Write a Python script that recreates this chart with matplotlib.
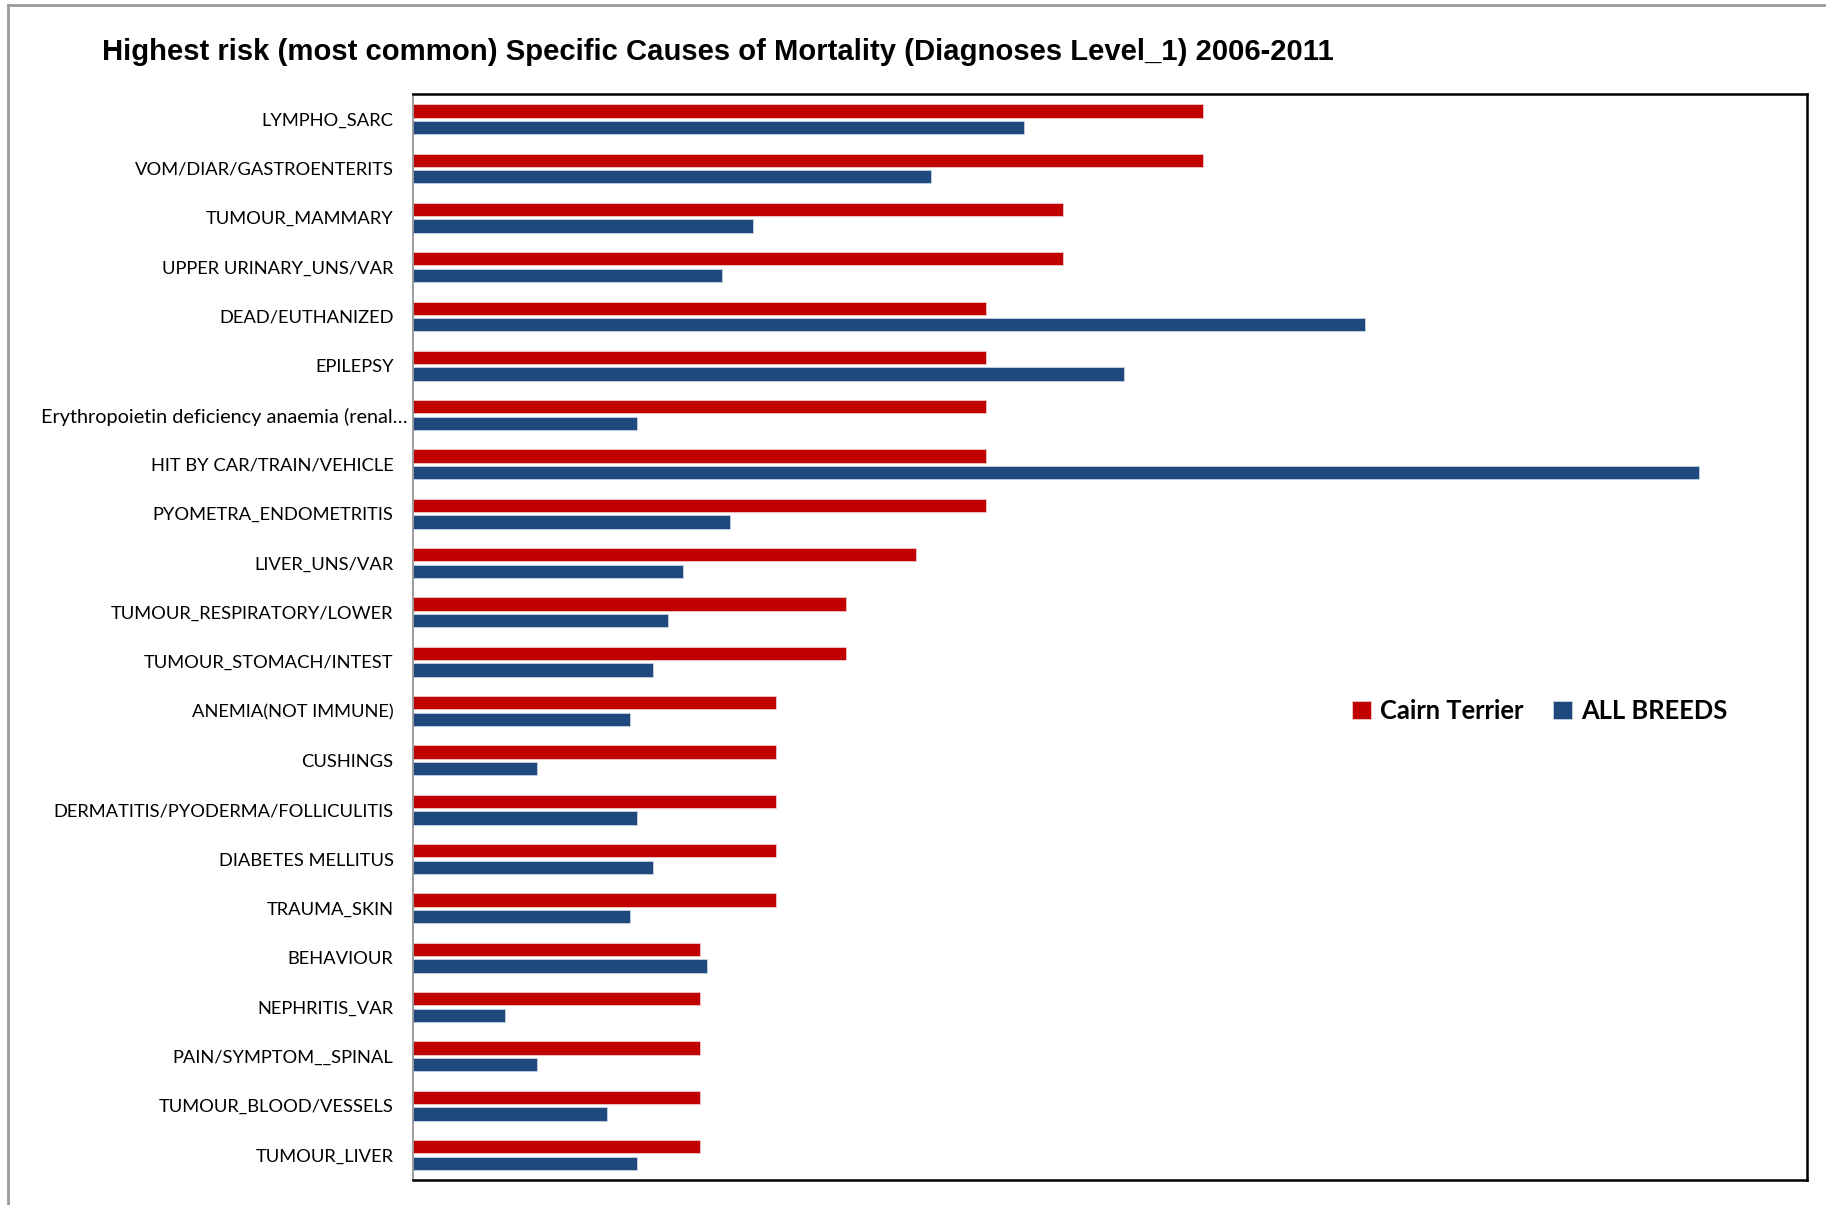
import numpy as np
import matplotlib.pyplot as plt
import matplotlib.transforms as mtransforms
from matplotlib.lines import Line2D

# categories, top to bottom
causes = [
    "LYMPHO_SARC", "VOM/DIAR/GASTROENTERITS", "TUMOUR_MAMMARY", "UPPER URINARY_UNS/VAR",
    "DEAD/EUTHANIZED", "EPILEPSY", "Erythropoietin deficiency anaemia (renal\u2026",
    "HIT BY CAR/TRAIN/VEHICLE", "PYOMETRA_ENDOMETRITIS", "LIVER_UNS/VAR",
    "TUMOUR_RESPIRATORY/LOWER", "TUMOUR_STOMACH/INTEST", "ANEMIA(NOT IMMUNE)",
    "CUSHINGS", "DERMATITIS/PYODERMA/FOLLICULITIS", "DIABETES MELLITUS", "TRAUMA_SKIN",
    "BEHAVIOUR", "NEPHRITIS_VAR", "PAIN/SYMPTOM__SPINAL", "TUMOUR_BLOOD/VESSELS",
    "TUMOUR_LIVER",
]
# values (arbitrary units, no axis shown)
cairn = [11.3, 11.3, 9.3, 9.3, 8.2, 8.2, 8.2, 8.2, 8.2, 7.2, 6.2, 6.2,
         5.2, 5.2, 5.2, 5.2, 5.2, 4.1, 4.1, 4.1, 4.1, 4.1]
all_breeds = [8.75, 7.42, 4.87, 4.42, 13.63, 10.18, 3.2, 18.4, 4.53, 3.87, 3.65, 3.43,
              3.1, 1.77, 3.2, 3.43, 3.1, 4.2, 1.32, 1.77, 2.77, 3.2]
series_names = ["Cairn Terrier", "ALL BREEDS"]

RED = "#C00000"
BLUE = "#1F497D"

fig = plt.figure(figsize=(18.26, 12.05), dpi=100)
ax = fig.add_axes([0.2262, 0.021, 0.7634, 0.9006])

y = np.arange(len(causes))
h = 0.27
ax.barh(y - 0.168, cairn, height=h, color=RED, edgecolor="#f0c8c8", linewidth=0.6,
        label=series_names[0])
ax.barh(y + 0.168, all_breeds, height=h, color=BLUE, edgecolor="#c8d4e4", linewidth=0.6,
        label=series_names[1])

ax.set_ylim(len(causes) - 0.5, -0.5)
ax.set_xlim(0, 19.95)
ax.set_yticks(y)
ax.set_yticklabels(causes, fontsize=13.2, family=["Lato", "DejaVu Sans"])
ax.tick_params(axis="y", length=0, pad=14)
ax.set_xticks([])

# the truncated label sits a bit further right and is a bit wider in the original
lab = ax.get_yticklabels()[6]
lab.set_fontsize(14.3)
lab.set_transform(lab.get_transform() + mtransforms.ScaledTranslation(14 / 100, 0, fig.dpi_scale_trans))

for s in ["top", "right", "bottom"]:
    ax.spines[s].set_color("black")
    ax.spines[s].set_linewidth(1.8)
ax.spines["left"].set_color("#8c8c8c")
ax.spines["left"].set_linewidth(1.2)

leg = ax.legend(loc="center left", bbox_to_anchor=(0.657, 0.432), ncol=2, frameon=False,
                handlelength=0.75, handleheight=0.75, handletextpad=0.35,
                columnspacing=1.15, prop={"family": "Lato", "weight": "bold", "size": 18.4})

fig.text(0.056, 0.957, "Highest risk (most common) Specific Causes of Mortality (Diagnoses Level_1) 2006-2011",
         fontsize=21.1, fontweight="bold", family="Liberation Sans", ha="left", va="center")

# gray outer frame of the original chart area
fig.add_artist(Line2D([0.0045, 0.0045], [0.0, 0.9958], transform=fig.transFigure,
                      color="#9a9a9a", linewidth=2))
fig.add_artist(Line2D([0.0045, 1.0], [0.9958, 0.9958], transform=fig.transFigure,
                      color="#9a9a9a", linewidth=2))

fig.savefig("out.png", dpi=100)
